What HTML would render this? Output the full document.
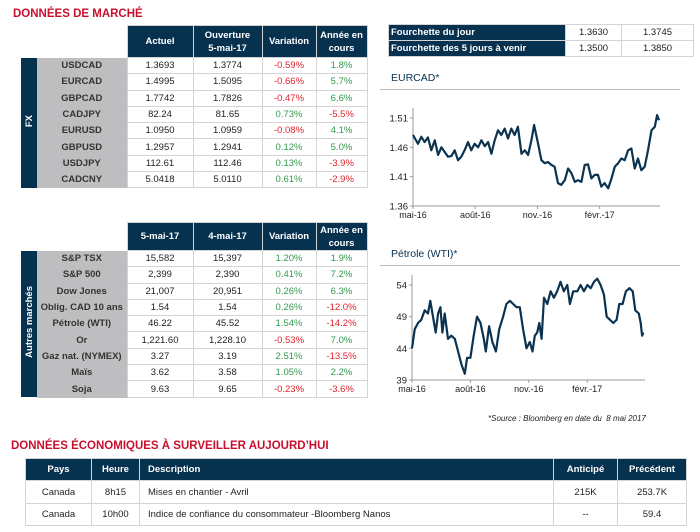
<!DOCTYPE html>
<html><head><meta charset="utf-8">
<style>
body{margin:0;width:700px;height:532px;background:#fff;position:relative;overflow:hidden;font-family:"Liberation Sans",sans-serif;}
.abs{position:absolute;}
.title{color:#c8102e;font-weight:bold;font-size:11.5px;letter-spacing:0px;}
table{border-collapse:collapse;table-layout:fixed;font-size:9.5px;}
td,th{padding:0;text-align:center;border:1px solid #d4d4d4;color:#222;}
th{background:#06314f;color:#fff;font-weight:bold;font-size:9.5px;line-height:13px;border:1px solid #d4d4d4;}
th.blank{background:#fff;border:none;}
td.band{background:#06314f;color:#fff;font-weight:bold;border:none;}
td.lab{background:#bebec0;font-weight:bold;color:#333;border:none;border-bottom:1px solid #bebec0;}
.g{color:#2f9a4c;}.r{color:#e1222b;}
.vt{writing-mode:vertical-rl;transform:rotate(180deg);display:inline-block;font-size:9.5px;}
.ct{color:#06314f;font-size:10.5px;}
</style></head><body>
<div class="abs title" style="left:13px;top:8px;">DONNÉES DE MARCHÉ</div>

<table class="abs" style="left:21px;top:25px;width:346px;">
<colgroup><col style="width:16px"><col style="width:90px"><col style="width:66px"><col style="width:69px"><col style="width:54px"><col style="width:51px"></colgroup>
<tr style="height:32px"><th class="blank"></th><th class="blank"></th><th>Actuel</th><th>Ouverture<br>5-mai-17</th><th>Variation</th><th>Année en<br>cours</th></tr>
<tr style="height:16.3px"><td class="band" rowspan="8"><span class="vt">FX</span></td><td class="lab">USDCAD</td><td>1.3693</td><td>1.3774</td><td class="r">-0.59%</td><td class="g">1.8%</td></tr>
<tr style="height:16.3px"><td class="lab">EURCAD</td><td>1.4995</td><td>1.5095</td><td class="r">-0.66%</td><td class="g">5.7%</td></tr>
<tr style="height:16.3px"><td class="lab">GBPCAD</td><td>1.7742</td><td>1.7826</td><td class="r">-0.47%</td><td class="g">6.6%</td></tr>
<tr style="height:16.3px"><td class="lab">CADJPY</td><td>82.24</td><td>81.65</td><td class="g">0.73%</td><td class="r">-5.5%</td></tr>
<tr style="height:16.3px"><td class="lab">EURUSD</td><td>1.0950</td><td>1.0959</td><td class="r">-0.08%</td><td class="g">4.1%</td></tr>
<tr style="height:16.3px"><td class="lab">GBPUSD</td><td>1.2957</td><td>1.2941</td><td class="g">0.12%</td><td class="g">5.0%</td></tr>
<tr style="height:16.3px"><td class="lab">USDJPY</td><td>112.61</td><td>112.46</td><td class="g">0.13%</td><td class="r">-3.9%</td></tr>
<tr style="height:16.3px"><td class="lab">CADCNY</td><td>5.0418</td><td>5.0110</td><td class="g">0.61%</td><td class="r">-2.9%</td></tr>
</table>

<table class="abs" style="left:21px;top:222px;width:346px;">
<colgroup><col style="width:16px"><col style="width:90px"><col style="width:66px"><col style="width:69px"><col style="width:54px"><col style="width:51px"></colgroup>
<tr style="height:28px"><th class="blank"></th><th class="blank"></th><th>5-mai-17</th><th>4-mai-17</th><th>Variation</th><th>Année en<br>cours</th></tr>
<tr style="height:16.3px"><td class="band" rowspan="9"><span class="vt">Autres marchés</span></td><td class="lab">S&amp;P TSX</td><td>15,582</td><td>15,397</td><td class="g">1.20%</td><td class="g">1.9%</td></tr>
<tr style="height:16.3px"><td class="lab">S&amp;P 500</td><td>2,399</td><td>2,390</td><td class="g">0.41%</td><td class="g">7.2%</td></tr>
<tr style="height:16.3px"><td class="lab">Dow Jones</td><td>21,007</td><td>20,951</td><td class="g">0.26%</td><td class="g">6.3%</td></tr>
<tr style="height:16.3px"><td class="lab">Oblig. CAD 10 ans</td><td>1.54</td><td>1.54</td><td class="g">0.26%</td><td class="r">-12.0%</td></tr>
<tr style="height:16.3px"><td class="lab">Pétrole (WTI)</td><td>46.22</td><td>45.52</td><td class="g">1.54%</td><td class="r">-14.2%</td></tr>
<tr style="height:16.3px"><td class="lab">Or</td><td>1,221.60</td><td>1,228.10</td><td class="r">-0.53%</td><td class="g">7.0%</td></tr>
<tr style="height:16.3px"><td class="lab">Gaz nat. (NYMEX)</td><td>3.27</td><td>3.19</td><td class="g">2.51%</td><td class="r">-13.5%</td></tr>
<tr style="height:16.3px"><td class="lab">Maïs</td><td>3.62</td><td>3.58</td><td class="g">1.05%</td><td class="g">2.2%</td></tr>
<tr style="height:16.3px"><td class="lab">Soja</td><td>9.63</td><td>9.65</td><td class="r">-0.23%</td><td class="r">-3.6%</td></tr>
</table>

<table class="abs" style="left:388px;top:24px;width:305px;">
<colgroup><col style="width:177px"><col style="width:56px"><col style="width:72px"></colgroup>
<tr style="height:16px"><th style="text-align:left;padding-left:2px">Fourchette du jour</th><td>1.3630</td><td>1.3745</td></tr>
<tr style="height:16px"><th style="text-align:left;padding-left:2px">Fourchette des 5 jours à venir</th><td>1.3500</td><td>1.3850</td></tr>
</table>

<div class="abs ct" style="left:391px;top:72px;">EURCAD*</div>
<div class="abs" style="left:380px;top:89px;width:300px;height:1px;background:#bbb;"></div>
<div class="abs ct" style="left:391px;top:248px;">Pétrole (WTI)*</div>
<div class="abs" style="left:380px;top:265px;width:300px;height:1px;background:#bbb;"></div>

<svg class="abs" style="left:0;top:0" width="700" height="532" id="charts"></svg>

<div class="abs" style="left:488px;top:414px;font-size:8px;font-style:italic;color:#222;">*Source : Bloomberg en date du &nbsp;8 mai 2017</div>

<div class="abs title" style="left:11px;top:440px;">DONNÉES ÉCONOMIQUES À SURVEILLER AUJOURD’HUI</div>
<table class="abs" style="left:25px;top:458px;width:661px;font-size:9.5px">
<colgroup><col style="width:66px"><col style="width:48px"><col style="width:414px"><col style="width:64px"><col style="width:69px"></colgroup>
<tr style="height:22px"><th>Pays</th><th>Heure</th><th style="text-align:left;padding-left:8px">Description</th><th>Anticipé</th><th>Précédent</th></tr>
<tr style="height:23px"><td>Canada</td><td>8h15</td><td style="text-align:left;padding-left:8px">Mises en chantier - Avril</td><td>215K</td><td>253.7K</td></tr>
<tr style="height:22px"><td>Canada</td><td>10h00</td><td style="text-align:left;padding-left:8px">Indice de confiance du consommateur -Bloomberg Nanos</td><td>--</td><td>59.4</td></tr>
</table>

<script>
// EURCAD data: time in months since May 2016, values
const eurT=[0,0.24,0.4,0.56,0.72,0.88,1.05,1.21,1.37,1.53,1.69,1.85,2.01,2.17,2.33,2.49,2.65,2.81,2.97,3.14,3.3,3.46,3.62,3.78,3.94,4.1,4.26,4.42,4.58,4.74,4.9,5.06,5.23,5.39,5.55,5.71,5.84,6.03,6.19,6.35,6.51,6.67,6.83,6.99,7.15,7.32,7.48,7.64,7.8,7.96,8.12,8.28,8.44,8.6,8.76,8.92,9.08,9.24,9.41,9.57,9.73,9.89,10.05,10.21,10.37,10.53,10.69,10.85,11.01,11.17,11.33,11.5,11.66,11.77,11.86];
const eurV=[1.481,1.466,1.478,1.469,1.477,1.455,1.472,1.447,1.46,1.452,1.444,1.445,1.455,1.438,1.444,1.455,1.469,1.455,1.466,1.46,1.472,1.462,1.469,1.449,1.472,1.489,1.481,1.492,1.475,1.492,1.481,1.495,1.449,1.455,1.447,1.472,1.498,1.466,1.438,1.433,1.435,1.43,1.427,1.399,1.396,1.404,1.424,1.416,1.401,1.404,1.401,1.43,1.431,1.407,1.413,1.413,1.393,1.399,1.39,1.407,1.427,1.433,1.441,1.438,1.455,1.458,1.424,1.441,1.421,1.427,1.455,1.489,1.495,1.515,1.506];
const eurTicks=[1.36,1.41,1.46,1.51];
// Oil data
const oilT=[0,0.14,0.31,0.48,0.65,0.82,0.94,1.08,1.22,1.34,1.46,1.56,1.68,1.85,2.02,2.2,2.37,2.54,2.71,2.83,3.0,3.17,3.34,3.52,3.69,3.79,3.96,4.13,4.31,4.48,4.68,4.85,5.03,5.2,5.37,5.54,5.71,5.88,6.05,6.19,6.31,6.43,6.54,6.66,6.78,6.95,7.12,7.29,7.46,7.63,7.8,7.98,8.11,8.28,8.49,8.66,8.83,9.01,9.18,9.35,9.52,9.69,9.86,10.0,10.17,10.34,10.51,10.65,10.82,10.99,11.17,11.34,11.47,11.65,11.75,11.82,11.89];
const oilV=[44,47,48,48.5,50,49.5,51.5,49,46.5,49.5,50.5,46.5,49.5,45.5,46,45.5,43.5,41.5,40,42.5,42.5,46,49,48,45.5,43.5,47.5,45,43.5,47,49,51,51.5,51,50.5,50.5,47,44,45,43.5,46,46.5,48,45.5,52,51,53,52,53,54.5,53,54,51,53,53,54,53,54,53.5,54.5,55,54,52.5,49,48.5,48,48.5,51,51,53,53.5,53,50,49.5,48,46,46.5];
const oilTicks=[39,44,49,54];
const monthLabels=["mai-16","août-16","nov.-16","févr.-17"];
const monthPos=[0,3,6,9];

const NS="http://www.w3.org/2000/svg";
const svg=document.getElementById('charts');
function mk(tag,attrs){const e=document.createElementNS(NS,tag);for(const k in attrs)e.setAttribute(k,attrs[k]);svg.appendChild(e);return e;}

function chart(name,t,v,ticks,x0,x1,tmax,y0,y1,vmin,vmax){
  const xs=m=>x0+(m/tmax)*(x1-x0);
  const ys=val=>y0-(val-vmin)/(vmax-vmin)*(y0-y1);
  const ax=mk('path',{d:`M${x0} ${ys(vmax)-10}V${y0}H${x1}`,stroke:'#999',fill:'none','stroke-width':1});
  
  
  ticks.forEach(tv=>{
    const tk=mk('line',{x1:x0-3,x2:x0,y1:ys(tv),y2:ys(tv),stroke:'#999'});
    
    
    const tx=mk('text',{x:x0-5,y:ys(tv)+3.5,'text-anchor':'end','font-size':'9.5','font-family':'Liberation Sans, sans-serif',fill:'#222'});
    tx.textContent=tv.toFixed(tv<10?2:0);
    
    
  });
  monthPos.forEach((m,i)=>{
    const tk=mk('line',{x1:xs(m),x2:xs(m),y1:y0,y2:y0+3,stroke:'#999'});
    
    
    const tx=mk('text',{x:xs(m),y:y0+12,'text-anchor':'middle','font-size':'9','font-family':'Liberation Sans, sans-serif',fill:'#222'});
    tx.textContent=monthLabels[i];
    
    
  });
  const d=t.map((m,i)=>(i?'L':'M')+xs(m).toFixed(1)+' '+ys(v[i]).toFixed(1)).join('');
  const ln=mk('path',{d:d,stroke:'#0b3350',fill:'none','stroke-width':2.2,'stroke-linejoin':'round'});
  
  
}
chart('eurcad',eurT,eurV,eurTicks,413,660,11.91,206,118,1.36,1.51);
chart('oil',oilT,oilV,oilTicks,412,645,11.97,380,285,39,54);
</script>
</body></html>
